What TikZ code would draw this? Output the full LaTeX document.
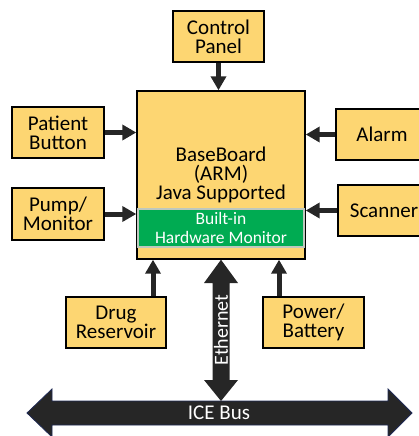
\documentclass[tikz,border=0pt]{standalone}
\usepackage{fontspec}
\setmainfont{Carlito}
\usetikzlibrary{arrows.meta}
\definecolor{boxyellow}{HTML}{FDD672}
\definecolor{hwgreen}{HTML}{00AB52}
\definecolor{arrowdark}{HTML}{262626}
\definecolor{busedge}{HTML}{1F2A55}
\tikzset{
  unit/.style={draw=black, line width=1.4pt, fill=boxyellow, align=center,
    font=\fontsize{21}{19}\selectfont, inner sep=0pt},
  feed/.style={draw=arrowdark, line width=5pt,
    -{Triangle[width=15pt,length=14pt]}},
}
\begin{document}
\begin{tikzpicture}[x=1pt,y=-1pt]
\useasboundingbox (0,0) rectangle (419,436);
\clip (0,0) rectangle (419,436);
% main board
\node[unit, minimum width=168pt, minimum height=168pt] (bb) at (221,175) {BaseBoard\\(ARM)\\Java Supported};
\node[draw={rgb,255:red,190;green,200;blue,190}, line width=1.2pt, fill=hwgreen, text=white, align=center,
  minimum width=166pt, minimum height=38pt, inner sep=0pt, font=\fontsize{17.5}{19}\selectfont] (hw) at (221,228) {Built-in\\Hardware Monitor};
% peripherals
\node[unit, minimum width=91pt, minimum height=51pt] (cp) at (218.5,36.5) {Control\\Panel};
\node[unit, minimum width=92pt, minimum height=51pt] (pb) at (58,132.5) {Patient\\Button};
\node[unit, minimum width=92pt, minimum height=52pt] (pm) at (58,214) {Pump/\\Monitor};
\node[unit, minimum width=92pt, minimum height=51pt] (al) at (382,134.5) {Alarm};
\node[unit, minimum width=92pt, minimum height=51pt] (sc) at (384,210.5) {Scanner};
\node[unit, minimum width=100pt, minimum height=51pt] (dr) at (116,322.5) {Drug\\Reservoir};
\node[unit, minimum width=101pt, minimum height=51pt] (pw) at (313.5,322.5) {Power/\\Battery};
% feed arrows
\draw[feed] (cp.south) -- (cp.south |- bb.north);
\draw[feed] (pb.east) -- (pb.east -| bb.west);
\draw[feed] (pm.east) -- (pm.east -| bb.west);
\draw[feed] (al.west) -- (al.west -| bb.east);
\draw[feed] (sc.west) -- (sc.west -| bb.east);
\draw[feed] (153,0 |- dr.north) -- (153,0 |- bb.south);
\draw[feed] (279,0 |- pw.north) -- (279,0 |- bb.south);
% ICE bus
\coordinate (busL) at (27,413);
\coordinate (busR) at (412,413);
\fill[arrowdark, draw=busedge, line width=0.8pt]
  (busL) -- (52,389) -- (52,401) -- (388,401) -- (388,389) -- (busR)
  -- (388,437) -- (388,425) -- (52,425) -- (52,437) -- cycle;
\node[text=white, font=\fontsize{21}{21}\selectfont] (ice) at (219,413) {ICE Bus};
% Ethernet link
\coordinate (ethT) at (221,0 |- bb.south);
\coordinate (ethB) at (221,401);
\fill[arrowdark]
  (ethT) -- (238,283) -- (229.5,283) -- (229.5,380) -- (238,380) -- (ethB)
  -- (204,380) -- (212.5,380) -- (212.5,283) -- (204,283) -- cycle;
\node[text=white, rotate=90, font=\fontsize{20}{20}\selectfont] (eth) at (221,330) {Ethernet};
\end{tikzpicture}
\end{document}
